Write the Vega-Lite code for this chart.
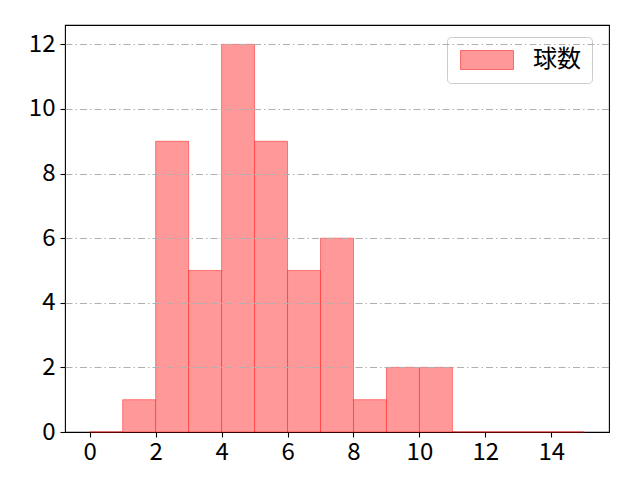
{
  "$schema": "https://vega.github.io/schema/vega-lite/v6.json",
  "width": 544,
  "height": 407,
  "autosize": {"type": "none"},
  "padding": {"left": 65, "top": 25, "right": 31, "bottom": 48},
  "background": "white",
  "config": {
    "view": {"stroke": "black", "strokeWidth": 1.1},
    "font": "Noto Sans CJK JP"
  },
  "data": {
    "values": [
      {"bin_start": 0, "bin_end": 1, "count": 0},
      {"bin_start": 1, "bin_end": 2, "count": 1},
      {"bin_start": 2, "bin_end": 3, "count": 9},
      {"bin_start": 3, "bin_end": 4, "count": 5},
      {"bin_start": 4, "bin_end": 5, "count": 12},
      {"bin_start": 5, "bin_end": 6, "count": 9},
      {"bin_start": 6, "bin_end": 7, "count": 5},
      {"bin_start": 7, "bin_end": 8, "count": 6},
      {"bin_start": 8, "bin_end": 9, "count": 1},
      {"bin_start": 9, "bin_end": 10, "count": 2},
      {"bin_start": 10, "bin_end": 11, "count": 2},
      {"bin_start": 11, "bin_end": 12, "count": 0},
      {"bin_start": 12, "bin_end": 13, "count": 0},
      {"bin_start": 13, "bin_end": 14, "count": 0},
      {"bin_start": 14, "bin_end": 15, "count": 0}
    ]
  },
  "mark": {"type": "bar", "stroke": "red", "strokeOpacity": 0.45, "strokeWidth": 1},
  "encoding": {
    "x": {
      "field": "bin_start",
      "type": "quantitative",
      "scale": {"domain": [-0.75, 15.75], "nice": false, "zero": false},
      "axis": {
        "title": null,
        "values": [0, 2, 4, 6, 8, 10, 12, 14],
        "grid": false,
        "domain": false,
        "tickColor": "black",
        "tickSize": 5,
        "tickWidth": 1.1,
        "labelFontSize": 24,
        "labelColor": "black",
        "labelPadding": 3,
        "labelFont": "Noto Sans CJK JP"
      }
    },
    "x2": {"field": "bin_end"},
    "y": {
      "field": "count",
      "type": "quantitative",
      "scale": {"domain": [0, 12.6], "nice": false},
      "axis": {
        "title": null,
        "values": [0, 2, 4, 6, 8, 10, 12],
        "grid": true,
        "gridColor": "#b0b0b0",
        "gridWidth": 1,
        "gridDash": [7, 3, 1.5, 3],
        "gridOpacity": {"condition": {"test": "datum.value === 0", "value": 0}, "value": 1},
        "zindex": 1,
        "domain": false,
        "tickColor": "black",
        "tickSize": 5,
        "tickWidth": 1.1,
        "labelFontSize": 24,
        "labelColor": "black",
        "labelPadding": 5,
        "labelFont": "Noto Sans CJK JP"
      }
    },
    "y2": {"datum": 0},
    "color": {
      "datum": "球数",
      "type": "nominal",
      "scale": {"range": ["#ff9999"]},
      "legend": {
        "title": null,
        "orient": "none",
        "legendX": 382,
        "legendY": 12,
        "padding": 11,
        "strokeColor": "#cccccc",
        "fillColor": "white",
        "cornerRadius": 4,
        "labelFontSize": 24,
        "labelFont": "Noto Sans CJK JP",
        "labelColor": "black",
        "labelOffset": 51,
        "symbolType": "M-1,-1H4.58V1H-1Z",
        "symbolSize": 361,
        "symbolFillColor": "#ff9999",
        "symbolStrokeColor": "#ff6666",
        "symbolStrokeWidth": 1,
        "symbolOpacity": 1
      }
    }
  }
}
